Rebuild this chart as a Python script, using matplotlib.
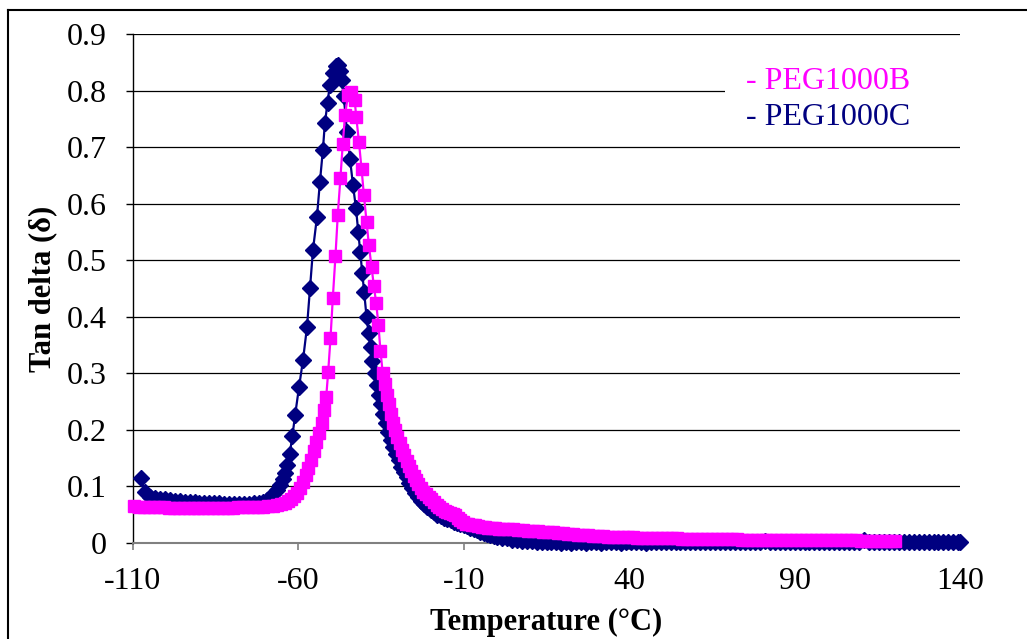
import matplotlib
matplotlib.use("Agg")
import matplotlib.pyplot as plt
from matplotlib.lines import Line2D

plt.rcParams['font.family'] = ['Liberation Serif', 'DejaVu Serif']

# ---- data -----------------------------------------------------------
# PEG1000C (navy diamonds)
temp_c = [-107.7, -106.4, -104.9, -103.4, -101.9, -100.4, -98.9, -97.4, -95.9, -94.4,
          -92.9, -91.4, -89.9, -88.4, -86.9, -85.4, -83.9, -82.4, -80.9, -79.4,
          -77.9, -76.4, -74.9, -73.4, -72.0, -70.7, -69.6, -68.6, -67.6, -66.6,
          -65.6, -64.7, -64.0, -63.3, -62.6, -61.8, -61.0, -59.8, -58.6, -57.4,
          -56.5, -55.6, -54.4, -53.5, -52.6, -52.0, -51.2, -50.5, -49.5, -48.6,
          -48.0, -47.4, -46.9, -46.3, -45.3, -44.4, -43.5, -42.6, -41.9, -41.3,
          -40.7, -40.1, -39.4, -38.8, -38.2, -37.6, -36.9, -36.3, -35.7, -35.0,
          -34.3, -33.6, -32.9, -32.1, -31.3, -30.5, -29.7, -28.9, -28.1, -27.3,
          -26.5, -25.7, -24.8, -23.9, -23.0, -22.0, -21.0, -20.0, -19.0, -18.0,
          -17.0, -16.0, -15.0, -14.0, -13.0, -12.0, -11.0, -10.0, -9.0, -8.0,
          -7.0, -6.0, -5.0, -4.0, -3.0, -2.0, -1.0, 0.0, 1.5, 3.0,
          4.5, 6.0, 7.5, 9.0, 10.5, 12.0, 13.5, 15.0, 16.5, 18.0,
          19.5, 21.0, 22.5, 24.0, 25.5, 27.0, 28.5, 30.0, 31.5, 33.0,
          34.5, 36.0, 37.5, 39.0, 40.5, 42.0, 43.5, 45.0, 46.5, 48.0,
          49.5, 51.0, 52.5, 54.0, 55.5, 57.0, 58.5, 60.0, 61.5, 63.0,
          64.5, 66.0, 67.5, 69.0, 70.5, 72.0, 73.5, 75.0, 76.5, 78.0,
          79.5, 81.0, 82.5, 84.0, 85.5, 87.0, 88.5, 90.0, 91.5, 93.0,
          94.5, 96.0, 97.5, 99.0, 100.5, 102.0, 103.5, 105.0, 106.5, 108.0,
          109.5, 111.0, 112.5, 114.0, 115.5, 117.0, 118.5, 120.0, 121.5, 123.0,
          124.5, 126.0, 127.5, 129.0, 130.5, 132.0, 133.5, 135.0, 136.5, 138.0,
          139.5, 140.0]
tan_c = [0.115, 0.090, 0.081, 0.079, 0.078, 0.077, 0.076, 0.075, 0.074, 0.073,
         0.072, 0.072, 0.071, 0.071, 0.070, 0.070, 0.070, 0.069, 0.069, 0.069,
         0.069, 0.069, 0.069, 0.070, 0.071, 0.073, 0.076, 0.080, 0.086, 0.093,
         0.102, 0.113, 0.124, 0.138, 0.158, 0.190, 0.226, 0.276, 0.324, 0.382,
         0.451, 0.518, 0.576, 0.638, 0.695, 0.742, 0.778, 0.810, 0.831, 0.843,
         0.845, 0.835, 0.819, 0.790, 0.727, 0.679, 0.633, 0.592, 0.550, 0.515,
         0.477, 0.444, 0.400, 0.372, 0.346, 0.322, 0.300, 0.280, 0.262, 0.245,
         0.228, 0.212, 0.197, 0.183, 0.170, 0.157, 0.146, 0.135, 0.125, 0.116,
         0.106, 0.097, 0.089, 0.082, 0.075, 0.069, 0.063, 0.058, 0.054, 0.050,
         0.047, 0.044, 0.042, 0.040, 0.038, 0.036, 0.034, 0.032, 0.030, 0.027,
         0.025, 0.023, 0.020, 0.018, 0.016, 0.014, 0.012, 0.011, 0.009, 0.008,
         0.006, 0.005, 0.004, 0.003, 0.003, 0.002, 0.002, 0.001, 0.001, 0.001,
         0.000, 0.001, 0.000, 0.001, 0.001, 0.000, 0.001, 0.001, 0.000, 0.001,
         0.001, 0.001, 0.000, 0.001, 0.001, 0.001, 0.001, 0.000, 0.001, 0.001,
         0.001, 0.001, 0.002, 0.001, 0.001, 0.001, 0.001, 0.002, 0.001, 0.001,
         0.001, 0.002, 0.001, 0.001, 0.002, 0.001, 0.001, 0.001, 0.002, 0.001,
         0.001, 0.003, 0.001, 0.002, 0.001, 0.001, 0.002, 0.002, 0.001, 0.002,
         0.001, 0.002, 0.002, 0.001, 0.002, 0.002, 0.001, 0.002, 0.002, 0.002,
         0.002, 0.005, 0.002, 0.002, 0.002, 0.001, 0.002, 0.002, 0.002, 0.002,
         0.002, 0.002, 0.002, 0.002, 0.002, 0.002, 0.002, 0.002, 0.002, 0.002,
         0.002, 0.002]

# PEG1000B (magenta squares)
temp_b = [-109.7, -108.2, -106.7, -105.2, -103.7, -102.2, -100.7, -99.2, -97.7, -96.2,
          -94.7, -93.2, -91.7, -90.2, -88.7, -87.2, -85.7, -84.2, -82.7, -81.2,
          -79.7, -78.2, -76.7, -75.2, -73.7, -72.2, -70.7, -69.2, -67.8, -66.5,
          -65.3, -64.2, -63.1, -62.1, -61.2, -60.3, -59.4, -58.6, -57.8, -57.0,
          -56.2, -55.4, -54.6, -53.8, -53.0, -52.2, -51.6, -51.0, -50.3, -49.6,
          -48.8, -48.1, -47.3, -46.6, -45.9, -45.0, -44.0, -43.0, -42.5, -41.7,
          -40.9, -40.2, -39.4, -38.7, -37.9, -37.2, -36.5, -35.8, -35.2, -34.5,
          -33.9, -33.3, -32.6, -32.0, -31.4, -30.8, -30.1, -29.4, -28.7, -28.0,
          -27.3, -26.6, -25.9, -25.2, -24.5, -23.8, -23.0, -22.2, -21.4, -20.6,
          -19.8, -19.0, -18.2, -17.4, -16.6, -15.8, -15.0, -14.2, -13.4, -12.6,
          -11.8, -11.0, -10.2, -9.4, -8.6, -7.6, -6.6, -5.6, -4.6, -3.6,
          -2.6, -1.6, -0.6, 0.5, 2.0, 3.5, 5.0, 6.5, 8.0, 9.5,
          11.0, 12.5, 14.0, 15.5, 17.0, 18.5, 20.0, 21.5, 23.0, 24.5,
          26.0, 27.5, 29.0, 30.5, 32.0, 33.5, 35.0, 36.5, 38.0, 39.5,
          41.0, 42.5, 44.0, 45.5, 47.0, 48.5, 50.0, 51.5, 53.0, 54.5,
          56.0, 57.5, 59.0, 60.5, 62.0, 63.5, 65.0, 66.5, 68.0, 69.5,
          71.0, 72.5, 74.0, 75.5, 77.0, 78.5, 80.0, 81.5, 83.0, 84.5,
          86.0, 87.5, 89.0, 90.5, 92.0, 93.5, 95.0, 96.5, 98.0, 99.5,
          101.0, 102.5, 104.0, 105.5, 107.0, 108.5, 110.0, 111.5, 113.0, 114.5,
          116.0, 117.5, 119.0, 120.5]
tan_b = [0.065, 0.064, 0.064, 0.063, 0.063, 0.063, 0.063, 0.062, 0.062, 0.062,
         0.062, 0.062, 0.062, 0.062, 0.062, 0.062, 0.062, 0.062, 0.062, 0.062,
         0.062, 0.063, 0.063, 0.063, 0.063, 0.064, 0.064, 0.065, 0.066, 0.067,
         0.069, 0.071, 0.074, 0.078, 0.083, 0.088, 0.097, 0.108, 0.120, 0.133,
         0.147, 0.162, 0.178, 0.194, 0.212, 0.235, 0.258, 0.302, 0.362, 0.433,
         0.507, 0.580, 0.645, 0.705, 0.757, 0.792, 0.797, 0.783, 0.753, 0.709,
         0.661, 0.615, 0.568, 0.527, 0.488, 0.455, 0.425, 0.385, 0.340, 0.300,
         0.281, 0.262, 0.245, 0.228, 0.213, 0.200, 0.188, 0.176, 0.165, 0.155,
         0.145, 0.136, 0.127, 0.119, 0.111, 0.104, 0.097, 0.091, 0.086, 0.081,
         0.077, 0.073, 0.068, 0.064, 0.060, 0.057, 0.055, 0.053, 0.051, 0.049,
         0.045, 0.040, 0.037, 0.034, 0.033, 0.032, 0.031, 0.030, 0.029, 0.028,
         0.027, 0.026, 0.026, 0.025, 0.025, 0.024, 0.024, 0.023, 0.023, 0.022,
         0.021, 0.021, 0.020, 0.019, 0.019, 0.018, 0.017, 0.016, 0.016, 0.015,
         0.014, 0.014, 0.013, 0.012, 0.012, 0.011, 0.011, 0.011, 0.010, 0.010,
         0.010, 0.009, 0.009, 0.009, 0.009, 0.008, 0.008, 0.008, 0.008, 0.008,
         0.007, 0.007, 0.007, 0.007, 0.007, 0.007, 0.007, 0.007, 0.007, 0.007,
         0.007, 0.007, 0.006, 0.006, 0.006, 0.006, 0.006, 0.006, 0.006, 0.006,
         0.006, 0.006, 0.006, 0.006, 0.005, 0.005, 0.005, 0.005, 0.005, 0.005,
         0.005, 0.005, 0.005, 0.005, 0.005, 0.005, 0.004, 0.004, 0.004, 0.004,
         0.004, 0.004, 0.004, 0.004]

series_names = ["- PEG1000B", "- PEG1000C"]
x_ticks = [-110, -60, -10, 40, 90, 140]
y_ticks = [0, 0.1, 0.2, 0.3, 0.4, 0.5, 0.6, 0.7, 0.8, 0.9]
y_tick_labels = ["0", "0.1", "0.2", "0.3", "0.4", "0.5", "0.6", "0.7", "0.8", "0.9"]

# ---- figure ---------------------------------------------------------
W, H = 1027, 639
fig = plt.figure(figsize=(W / 100, H / 100), dpi=100)
ax = fig.add_axes([133 / W, 1 - 543 / H, (960 - 133) / W, (543 - 34) / H])

navy = "#000080"
magenta = "#FF00FF"

ax.plot(temp_c, tan_c, color=navy, lw=1.6, marker="D", ms=8, mfc=navy, mec=navy,
        clip_on=False, zorder=3)
ax.plot(temp_b, tan_b, color=magenta, lw=1.6, marker="s", ms=8.5, mfc=magenta, mec=magenta,
        clip_on=False, zorder=4)

ax.set_xlim(-110, 140)
ax.set_ylim(0, 0.9)
ax.set_xticks(x_ticks)
ax.set_xticklabels([str(v) for v in x_ticks])
ax.set_yticks(y_ticks)
ax.set_yticklabels(y_tick_labels)

ax.yaxis.grid(True, color="black", lw=0.9)
ax.set_axisbelow(True)
for s in ("top", "right"):
    ax.spines[s].set_visible(False)
ax.spines["left"].set_color("black")
ax.spines["left"].set_linewidth(1.0)
ax.spines["bottom"].set_color("#808080")
ax.spines["bottom"].set_linewidth(1.5)

ax.tick_params(axis="y", direction="out", length=5, width=1, color="black",
               labelsize=23, pad=14)
ax.tick_params(axis="x", direction="out", length=5, width=1.2, color="#808080",
               labelsize=23, pad=12, labelcolor="black")

ax.set_xlabel("Temperature (°C)", fontsize=22, fontweight="bold", labelpad=9)
ax.set_ylabel("Tan delta (δ)", fontsize=22, fontweight="bold", labelpad=7)

handles = [Line2D([], [], linestyle="none", marker=None) for _ in series_names]
leg = ax.legend(handles, series_names, loc="upper left",
                bbox_to_anchor=(0.716, 0.955, 0.284, 0.0), mode="expand",
                frameon=True, facecolor="white", edgecolor="none", framealpha=1,
                fontsize=23, handlelength=0, handletextpad=0.35, borderpad=0.3,
                labelspacing=0.22, borderaxespad=0, labelcolor=[magenta, navy])
leg.get_frame().set_boxstyle("square", pad=0)
leg.set_zorder(5)

# outer chart border
fig.add_artist(Line2D([8 / W, 1.0], [1 - 10 / H, 1 - 10 / H], transform=fig.transFigure,
                      color="black", lw=1.5))
fig.add_artist(Line2D([8 / W, 8 / W], [0.0, 1 - 10 / H], transform=fig.transFigure,
                      color="black", lw=1.5))

fig.savefig("out.png", dpi=100)
